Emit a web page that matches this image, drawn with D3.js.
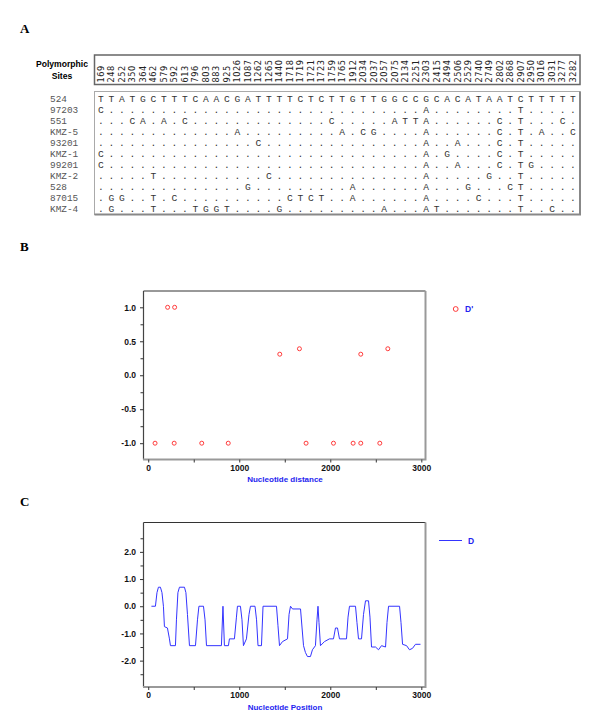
<!DOCTYPE html>
<html>
<head>
<meta charset="utf-8">
<script src="https://cdn.jsdelivr.net/npm/d3@7"></script>
<style>
  html, body { margin: 0; padding: 0; background: #fff; }
  svg { display: block; }
</style>
</head>
<body>
<svg id="fig" width="600" height="726"></svg>
<script>
// ---- Panel A: polymorphic sites ----
const sites = [169, 248, 252, 350, 364, 462, 579, 592, 613, 796, 803, 883, 925, 1026, 1087, 1262,
    1265, 1440, 1718, 1719, 1721, 1723, 1759, 1765, 1912, 2034, 2037, 2057, 2075, 2134, 2251, 2303,
    2415, 2494, 2506, 2529, 2740, 2749, 2802, 2868, 2907, 2950, 3016, 3031, 3277, 3282];
const strains = ['524', '97203', '551', 'KMZ-5', '93201', 'KMZ-1', '99201', 'KMZ-2', '528', '87015', 'KMZ-4'];
const haplotypes = [
    'TTATGCTTTC' + 'AACGATTTTC' + 'TCTTGTTGGC' + 'CGCACATAAT' + 'CTTTTT',
    'C.........' + '..........' + '..........' + '.A........' + 'T.....',
    '...CA.A.C.' + '..........' + '..C.....AT' + 'TA......C.' + 'T...C.',
    '..........' + '...A......' + '...A.CG...' + '.A......C.' + 'T.A..C',
    '..........' + '.....C....' + '..........' + '.A..A...C.' + 'T.....',
    'C.........' + '..........' + '..........' + '.A.G....C.' + 'T.....',
    'C.........' + '..........' + '..........' + '.A..A...C.' + 'TG....',
    '.....T....' + '......C...' + '..........' + '.A.....G..' + 'T.....',
    '..........' + '....G.....' + '....A.....' + '.A...G...C' + 'T.....',
    '.GG..T.C..' + '........CT' + 'CT..A.....' + '.A....C...' + 'T.....',
    '.G...T...T' + 'GGT....G..' + '.......A..' + '.AT.......' + 'T..C..'
];

// ---- Panel B: D' against nucleotide distance ----
const ldDistance = [75, 213, 285, 290, 588, 879, 1445, 1661, 1734, 2035, 2251, 2335, 2335, 2544, 2632];
const ldDprime   = [-1, 1, -1, 1, -1, -1, 0.31, 0.39, -1, -1, -1, 0.31, -1, -1, 0.39];

// ---- Panel C: sliding window Tajima's D ----
const windowPos = [35, 79, 96, 112, 134, 151, 167, 178, 211, 233, 244, 299, 310, 326, 343, 398, 414, 431,
    453, 519, 541, 557, 607, 624, 640, 804, 821, 837, 881, 892, 947, 969, 980, 1013, 1030, 1046, 1079,
    1107, 1123, 1173, 1190, 1206, 1244, 1261, 1409, 1425, 1442, 1475, 1530, 1547, 1563, 1585, 1673, 1690,
    1706, 1727, 1749, 1782, 1804, 1837, 1854, 1865, 1876, 1892, 1936, 1991, 2035, 2057, 2079, 2101, 2178,
    2195, 2211, 2277, 2293, 2310, 2343, 2365, 2387, 2420, 2436, 2453, 2497, 2530, 2563, 2607, 2623, 2640,
    2761, 2777, 2794, 2838, 2870, 2903, 2936, 2991];
const tajimaD = [0, 0, 0.5, 0.7, 0.7, 0.5, 0, -0.75, -0.8, -1.2, -1.45, -1.45, -0.5, 0.5, 0.7, 0.7, 0.5, -0.3,
    -1.45, -1.45, -0.5, 0, 0, -0.5, -1.45, -1.45, 0, -1.45, -1.45, -1.2, -1.2, -0.4, 0, 0, -0.5, -1.45, -1.2,
    -0.3, 0, 0, -0.5, -1.45, -1.45, 0, 0, -0.7, -1.45, -1.3, -1.2, -0.3, 0, -0.1, -0.1, -0.8,
    -1.45, -1.7, -1.85, -1.85, -1.6, -1.45, -0.5, 0, -0.6, -1.45, -1.3, -1.2, -1.2, -0.8, -0.8, -1.2, -1.2,
    -0.4, 0, 0, -0.6, -1.2, -1.2, -0.3, 0.2, 0.2, -0.4, -1.5, -1.5, -1.6, -1.45, -1.5, -0.6, 0,
    0, -0.6, -1.4, -1.45, -1.6, -1.55, -1.4, -1.4];

const xTicks = [0, 1000, 2000, 3000];
const xMinor = [500, 1500, 2500];
const bYTicks = [-1, -0.5, 0, 0.5, 1];
const bYMinor = [-0.75, -0.25, 0.25, 0.75];
const cYTicks = [-2, -1, 0, 1, 2];
const cYMinor = [-2.5, -1.5, -0.5, 0.5, 1.5, 2.5];

const blue = '#2424f0';
const red = '#ff3a3a';
const sans = '"Liberation Sans", Arial, sans-serif';
const mono = '"Liberation Mono", "Courier New", monospace';

const svg = d3.select('#fig');
svg.append('rect').attr('width', 600).attr('height', 726).attr('fill', '#fff');

// panel letters
[['A', 32.5], ['B', 251], ['C', 505.5]].forEach(p => {
    svg.append('text').attr('x', 20).attr('y', p[1]).text(p[0])
        .style('font-family', '"Liberation Serif", "Times New Roman", serif')
        .style('font-weight', 'bold').style('font-size', '13px');
});

// ---------- Panel A ----------
const colX = d3.scalePoint().domain(d3.range(sites.length)).range([101, 573]);
const rowY = d3.scalePoint().domain(strains).range([98.7, 208.7]);

svg.append('text').attr('x', 62).attr('y', 67).attr('text-anchor', 'middle').text('Polymorphic')
    .style('font-family', sans).style('font-weight', 'bold').style('font-size', '8.6px');
svg.append('text').attr('x', 62).attr('y', 79).attr('text-anchor', 'middle').text('Sites')
    .style('font-family', sans).style('font-weight', 'bold').style('font-size', '8.6px');

svg.append('rect').attr('x', 94.5).attr('y', 55).attr('width', 485.5).attr('height', 29.5)
    .attr('fill', 'none').attr('stroke', '#666').attr('stroke-width', 1.5);

svg.append('g').selectAll('text')
    .data(sites)
    .enter()
    .append('text')
    .attr('transform', (d, i) => `translate(${colX(i)},82.5) rotate(-90)`)
    .attr('dy', '0.36em')
    .text(d => d)
    .style('font-family', '"DejaVu Sans", sans-serif')
    .style('font-size', '8.2px')
    .style('letter-spacing', '0.5px')
    .attr('fill', '#222');

// sequence box
svg.append('rect').attr('x', 94.5).attr('y', 91.5).attr('width', 485.5).attr('height', 123)
    .attr('fill', 'none').attr('stroke', '#aaa').attr('stroke-width', 1);
svg.append('path').attr('d', 'M580,91.5V214.5H94.5').attr('fill', 'none')
    .attr('stroke', '#888').attr('stroke-width', 2);

svg.append('g').selectAll('text')
    .data(strains)
    .enter()
    .append('text')
    .attr('x', 50)
    .attr('y', d => rowY(d))
    .attr('dy', '0.35em')
    .text(d => d)
    .style('font-family', mono).style('font-size', '9.4px').attr('fill', '#555');

const rows = svg.append('g').selectAll('g')
    .data(haplotypes)
    .enter()
    .append('g')
    .attr('transform', (d, i) => `translate(0,${rowY(strains[i])})`);

rows.selectAll('text')
    .data(d => d.split(''))
    .enter()
    .append('text')
    .attr('x', (d, i) => colX(i))
    .attr('dy', '0.35em')
    .attr('text-anchor', 'middle')
    .text(d => d)
    .style('font-family', mono).style('font-size', '9.6px').attr('fill', '#333');

// ---------- shared helpers for B and C ----------
const xScale = d3.scaleLinear().domain([-52, 3046]).range([143.5, 425.5]);

const styleAxis = g => {
    g.select('.domain').remove();
    g.selectAll('line').attr('stroke', '#333');
    g.selectAll('text').style('font-family', sans).style('font-weight', 'bold')
        .style('font-size', '8.5px').attr('fill', '#111');
};

const drawFrame = (top, bottom) => {
    svg.append('line').attr('x1', 143.5).attr('x2', 425.5).attr('y1', top).attr('y2', top)
        .attr('stroke', '#333').attr('stroke-width', 1);
    svg.append('line').attr('x1', 143.5).attr('x2', 143.5).attr('y1', top).attr('y2', bottom)
        .attr('stroke', '#444').attr('stroke-width', 1.2);
    svg.append('path').attr('d', `M425.5,${top}V${bottom}H143`).attr('fill', 'none')
        .attr('stroke', '#999').attr('stroke-width', 2);
};

const drawAxes = (y, bottom, yTicks, yMinor, title, titleY) => {
    svg.append('g').attr('transform', 'translate(143.5,0)')
        .call(d3.axisLeft(y).tickValues(yTicks).tickFormat(d => d.toFixed(1)).tickSize(3.5).tickPadding(4))
        .call(styleAxis);
    svg.append('g').attr('transform', 'translate(143.5,0)')
        .call(d3.axisLeft(y).tickValues(yMinor).tickFormat('').tickSize(3))
        .call(styleAxis);
    svg.append('g').attr('transform', `translate(0,${bottom})`)
        .call(d3.axisBottom(xScale).tickValues(xTicks).tickFormat(d => String(d)).tickSize(3).tickPadding(2))
        .call(styleAxis);
    svg.append('g').attr('transform', `translate(0,${bottom})`)
        .call(d3.axisBottom(xScale).tickValues(xMinor).tickFormat('').tickSize(3))
        .call(styleAxis);
    svg.append('text').attr('x', 285).attr('y', titleY).attr('text-anchor', 'middle').text(title)
        .style('font-family', sans).style('font-weight', 'bold').style('font-size', '8px').attr('fill', blue);
};

// ---------- Panel B ----------
const yB = d3.scaleLinear().domain([-1.24, 1.24]).range([459.5, 291]);
drawFrame(291, 459.5);
drawAxes(yB, 459.5, bYTicks, bYMinor, 'Nucleotide distance', 482);

svg.append('g').selectAll('circle')
    .data(ldDistance)
    .enter()
    .append('circle')
    .attr('cx', d => xScale(d))
    .attr('cy', (d, i) => yB(ldDprime[i]))
    .attr('r', 2)
    .attr('fill', 'none')
    .attr('stroke', red)
    .attr('stroke-width', 1);

svg.append('circle').attr('cx', 455.7).attr('cy', 309).attr('r', 2.4)
    .attr('fill', 'none').attr('stroke', red).attr('stroke-width', 1);
svg.append('text').attr('x', 465).attr('y', 312).text("D'")
    .style('font-family', sans).style('font-weight', 'bold').style('font-size', '8.5px').attr('fill', blue);

// ---------- Panel C ----------
const yC = d3.scaleLinear().domain([-2.97, 3.08]).range([687, 522.5]);
drawFrame(522.5, 687);
drawAxes(yC, 687, cYTicks, cYMinor, 'Nucleotide Position', 710);

const line = d3.line()
    .x(d => xScale(d[0]))
    .y(d => yC(d[1]));

svg.append('path')
    .datum(windowPos.map((p, i) => [p, tajimaD[i]]))
    .attr('d', line)
    .attr('fill', 'none')
    .attr('stroke', '#3434ff')
    .attr('stroke-width', 1);

svg.append('line').attr('x1', 439).attr('x2', 462).attr('y1', 540.5).attr('y2', 540.5)
    .attr('stroke', '#3434ff').attr('stroke-width', 1);
svg.append('text').attr('x', 468).attr('y', 543.5).text('D')
    .style('font-family', sans).style('font-weight', 'bold').style('font-size', '8.5px').attr('fill', blue);
</script>
</body>
</html>
